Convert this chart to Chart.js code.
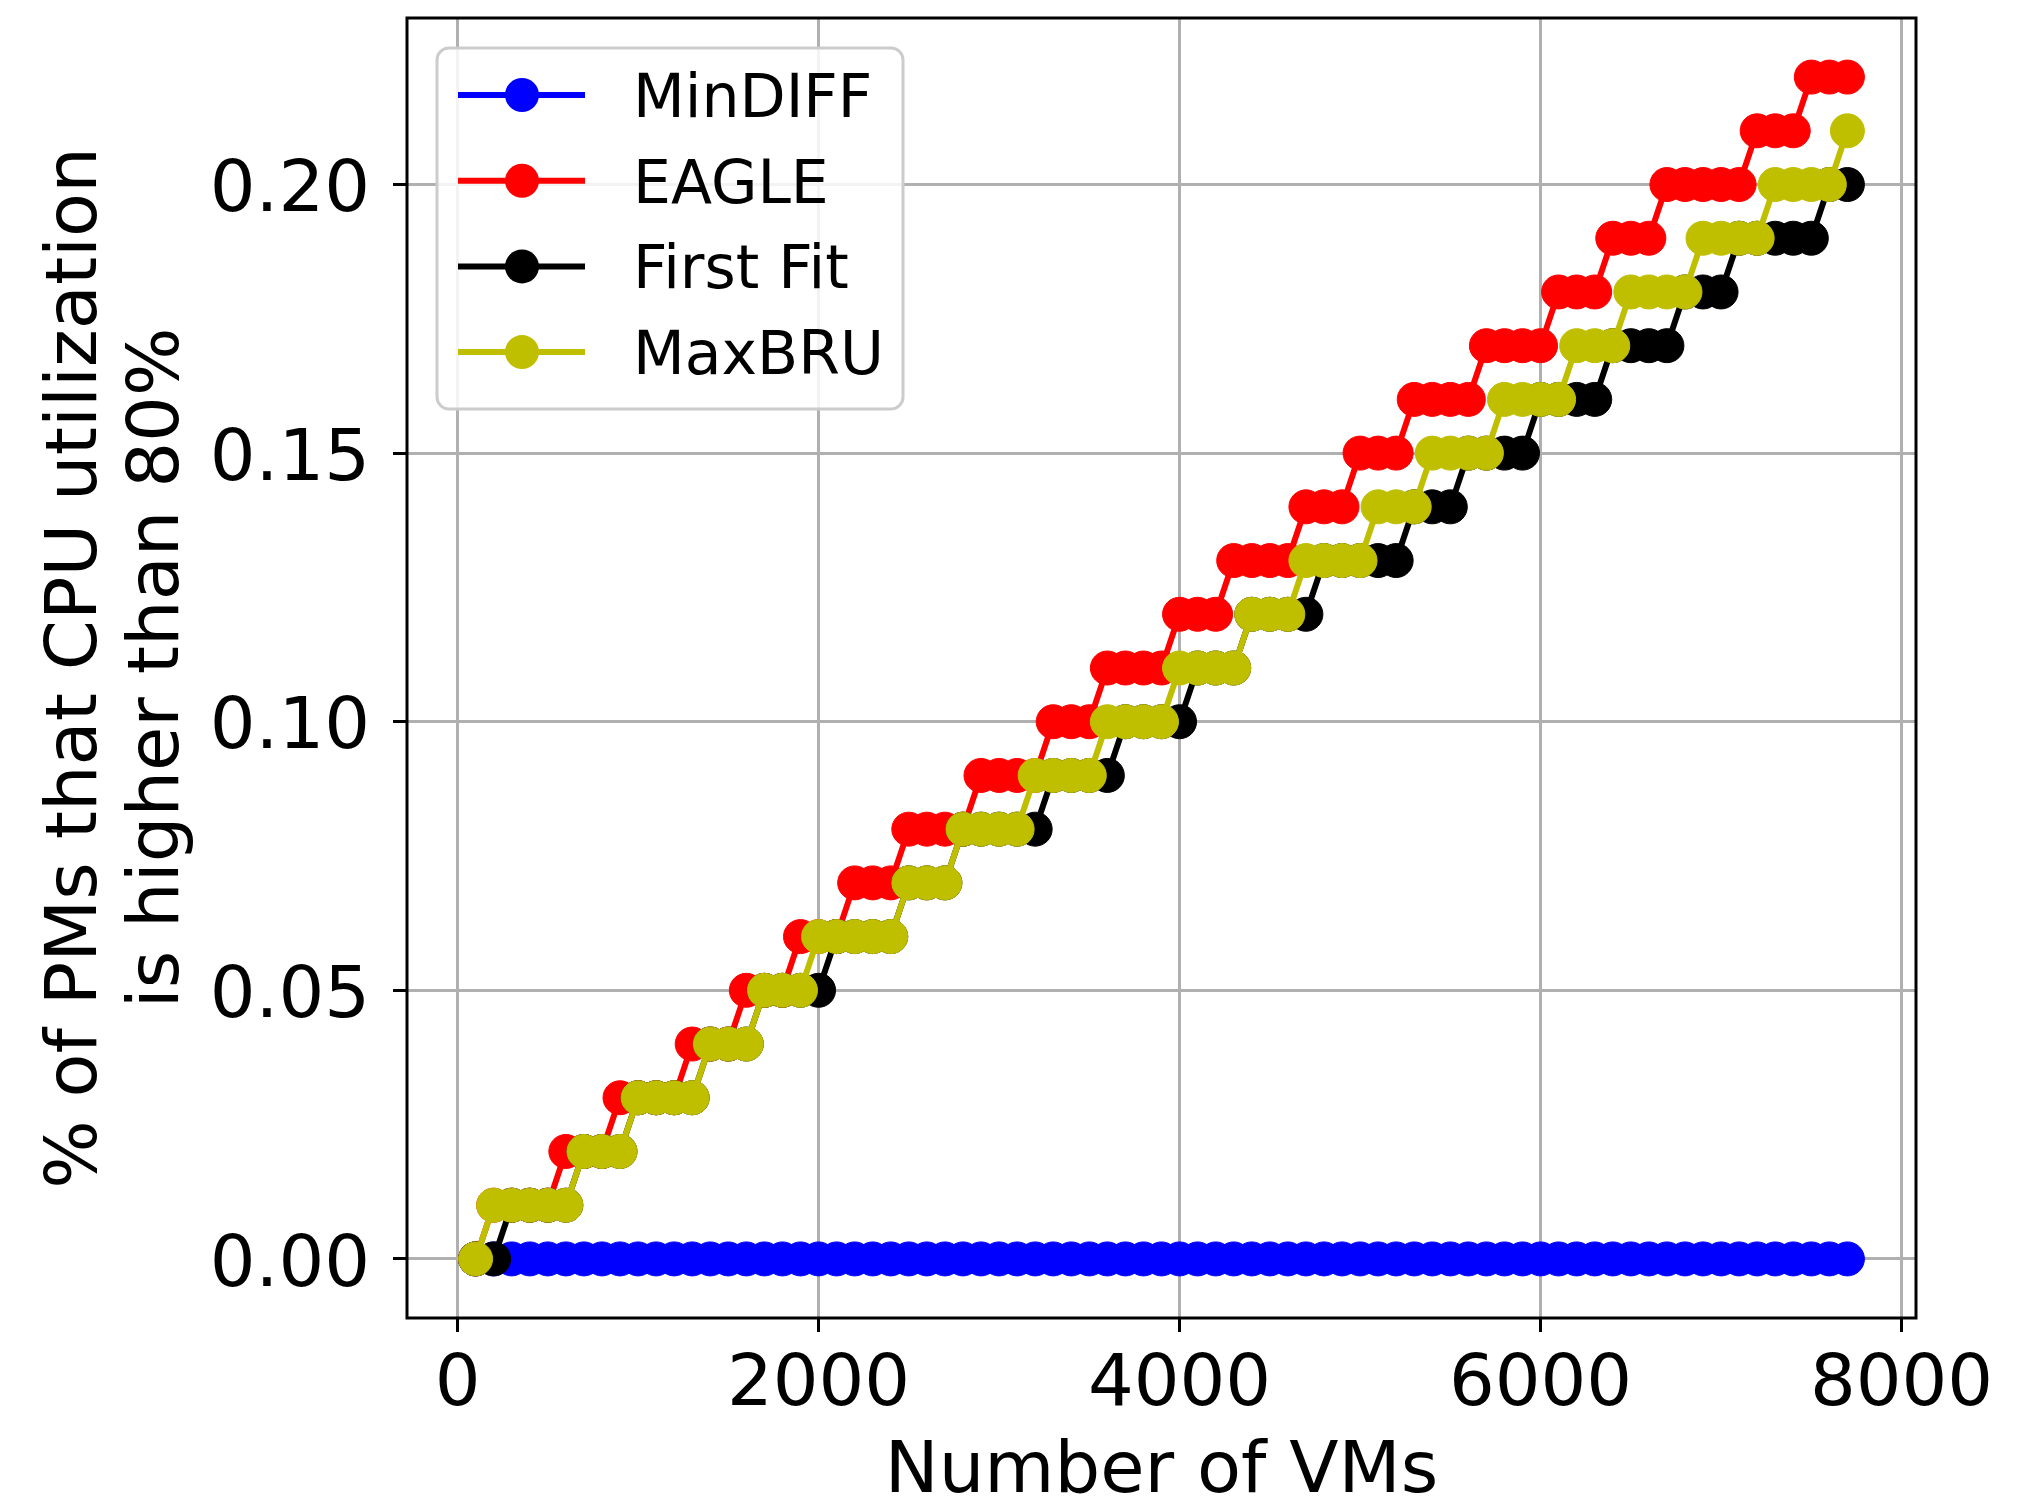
<!DOCTYPE html>
<html>
<head>
<meta charset="utf-8">
<title>PMs over 80% CPU</title>
<script src="https://cdn.jsdelivr.net/npm/chart.js@4.4.1/dist/chart.umd.min.js"></script>
<style>
  html, body { margin: 0; padding: 0; background: #ffffff; }
  #wrap { width: 2034px; height: 1502px; }
</style>
</head>
<body>
<div id="wrap"><canvas id="chart" width="2034" height="1502"></canvas></div>
<script>
// number of VMs (x) for every measured point
var vms = [
  100, 200, 300, 400, 500, 600, 700, 800, 900, 1000,
  1100, 1200, 1300, 1400, 1500, 1600, 1700, 1800, 1900, 2000,
  2100, 2200, 2300, 2400, 2500, 2600, 2700, 2800, 2900, 3000,
  3100, 3200, 3300, 3400, 3500, 3600, 3700, 3800, 3900, 4000,
  4100, 4200, 4300, 4400, 4500, 4600, 4700, 4800, 4900, 5000,
  5100, 5200, 5300, 5400, 5500, 5600, 5700, 5800, 5900, 6000,
  6100, 6200, 6300, 6400, 6500, 6600, 6700, 6800, 6900, 7000,
  7100, 7200, 7300, 7400, 7500, 7600, 7700
];

var minDiff = [
  0, 0, 0, 0, 0, 0, 0, 0, 0, 0,
  0, 0, 0, 0, 0, 0, 0, 0, 0, 0,
  0, 0, 0, 0, 0, 0, 0, 0, 0, 0,
  0, 0, 0, 0, 0, 0, 0, 0, 0, 0,
  0, 0, 0, 0, 0, 0, 0, 0, 0, 0,
  0, 0, 0, 0, 0, 0, 0, 0, 0, 0,
  0, 0, 0, 0, 0, 0, 0, 0, 0, 0,
  0, 0, 0, 0, 0, 0, 0
];

var eagle = [
  0, 0.01, 0.01, 0.01, 0.01, 0.02, 0.02, 0.02, 0.03, 0.03,
  0.03, 0.03, 0.04, 0.04, 0.04, 0.05, 0.05, 0.05, 0.06, 0.06,
  0.06, 0.07, 0.07, 0.07, 0.08, 0.08, 0.08, 0.08, 0.09, 0.09,
  0.09, 0.09, 0.10, 0.10, 0.10, 0.11, 0.11, 0.11, 0.11, 0.12,
  0.12, 0.12, 0.13, 0.13, 0.13, 0.13, 0.14, 0.14, 0.14, 0.15,
  0.15, 0.15, 0.16, 0.16, 0.16, 0.16, 0.17, 0.17, 0.17, 0.17,
  0.18, 0.18, 0.18, 0.19, 0.19, 0.19, 0.20, 0.20, 0.20, 0.20,
  0.20, 0.21, 0.21, 0.21, 0.22, 0.22, 0.22
];

var firstFit = [
  0, 0, 0.01, 0.01, 0.01, 0.01, 0.02, 0.02, 0.02, 0.03,
  0.03, 0.03, 0.03, 0.04, 0.04, 0.04, 0.05, 0.05, 0.05, 0.05,
  0.06, 0.06, 0.06, 0.06, 0.07, 0.07, 0.07, 0.08, 0.08, 0.08,
  0.08, 0.08, 0.09, 0.09, 0.09, 0.09, 0.10, 0.10, 0.10, 0.10,
  0.11, 0.11, 0.11, 0.12, 0.12, 0.12, 0.12, 0.13, 0.13, 0.13,
  0.13, 0.13, 0.14, 0.14, 0.14, 0.15, 0.15, 0.15, 0.15, 0.16,
  0.16, 0.16, 0.16, 0.17, 0.17, 0.17, 0.17, 0.18, 0.18, 0.18,
  0.19, 0.19, 0.19, 0.19, 0.19, 0.20, 0.20
];

var maxBru = [
  0, 0.01, 0.01, 0.01, 0.01, 0.01, 0.02, 0.02, 0.02, 0.03,
  0.03, 0.03, 0.03, 0.04, 0.04, 0.04, 0.05, 0.05, 0.05, 0.06,
  0.06, 0.06, 0.06, 0.06, 0.07, 0.07, 0.07, 0.08, 0.08, 0.08,
  0.08, 0.09, 0.09, 0.09, 0.09, 0.10, 0.10, 0.10, 0.10, 0.11,
  0.11, 0.11, 0.11, 0.12, 0.12, 0.12, 0.13, 0.13, 0.13, 0.13,
  0.14, 0.14, 0.14, 0.15, 0.15, 0.15, 0.15, 0.16, 0.16, 0.16,
  0.16, 0.17, 0.17, 0.17, 0.18, 0.18, 0.18, 0.18, 0.19, 0.19,
  0.19, 0.19, 0.20, 0.20, 0.20, 0.20, 0.21
];

var seriesNames = ['MinDIFF', 'EAGLE', 'First Fit', 'MaxBRU'];
var seriesColors = ['#0000ff', '#ff0000', '#000000', '#bfbf00'];

var xTicks = [0, 2000, 4000, 6000, 8000];
var yTicks = [0, 0.05, 0.10, 0.15, 0.20];

var FONT = 'DejaVu Sans';

function toPoints(values) {
  return values.map(function(v, i) { return { x: vms[i], y: v }; });
}

function makeSet(idx, values) {
  return {
    label: seriesNames[idx],
    data: toPoints(values),
    borderColor: seriesColors[idx],
    backgroundColor: seriesColors[idx],
    pointBackgroundColor: seriesColors[idx],
    pointBorderColor: seriesColors[idx],
    borderWidth: 6,
    pointRadius: 17,
    pointHoverRadius: 17,
    pointBorderWidth: 1,
    tension: 0,
    fill: false,
    // first series at the bottom, MaxBRU on top
    order: 4 - idx
  };
}

// black frame round the plot area
var frame = {
  id: 'frame',
  afterDatasetsDraw: function(chart) {
    var a = chart.chartArea, ctx = chart.ctx;
    ctx.save();
    ctx.strokeStyle = '#000';
    ctx.lineWidth = 3;
    ctx.strokeRect(a.left, a.top, a.right - a.left, a.bottom - a.top);
    ctx.restore();
  }
};

// matplotlib style legend box in the upper left corner
var boxLegend = {
  id: 'boxLegend',
  afterDraw: function(chart) {
    var a = chart.chartArea, ctx = chart.ctx;
    var left = a.left + 30, top = a.top + 30;
    var w = 466, h = 361, pitch = 85.7;
    ctx.save();
    ctx.beginPath();
    ctx.roundRect(left, top, w, h, 12);
    ctx.fillStyle = 'rgba(255,255,255,0.85)';
    ctx.fill();
    ctx.strokeStyle = '#cccccc';
    ctx.lineWidth = 3;
    ctx.stroke();

    ctx.font = '60px "' + FONT + '"';
    ctx.textAlign = 'left';
    ctx.textBaseline = 'alphabetic';
    chart.data.datasets.forEach(function(ds, i) {
      var cy = top + 47 + i * pitch;
      ctx.strokeStyle = ds.borderColor;
      ctx.lineWidth = 6;
      ctx.beginPath();
      ctx.moveTo(left + 21, cy);
      ctx.lineTo(left + 148, cy);
      ctx.stroke();
      ctx.fillStyle = ds.borderColor;
      ctx.beginPath();
      ctx.arc(left + 85, cy, 17, 0, Math.PI * 2);
      ctx.fill();
      ctx.fillStyle = '#000';
      ctx.fillText(ds.label, left + 196, cy + 22);
    });
    ctx.restore();
  }
};

// no extra room for edge labels, the layout padding below sets the plot box
function noEdgePadding(scale) {
  scale.paddingTop = 0;
  scale.paddingBottom = 0;
  scale.paddingLeft = 0;
  scale.paddingRight = 0;
}

var ctx = document.getElementById('chart').getContext('2d');
var chart = new Chart(ctx, {
  type: 'line',
  data: {
    datasets: [
      makeSet(0, minDiff),
      makeSet(1, eagle),
      makeSet(2, firstFit),
      makeSet(3, maxBru)
    ]
  },
  plugins: [frame, boxLegend],
  options: {
    responsive: false,
    animation: false,
    devicePixelRatio: 1,
    layout: { padding: { top: 18, right: 118, bottom: 0, left: 0 } },
    plugins: {
      legend: { display: false },
      tooltip: { enabled: false }
    },
    scales: {
      x: {
        type: 'linear',
        min: -280,
        max: 8080,
        afterBuildTicks: function(scale) {
          scale.ticks = xTicks.map(function(v) { return { value: v }; });
        },
        afterFit: function(scale) { scale.height = 184; noEdgePadding(scale); },
        grid: { color: '#b0b0b0', lineWidth: 3, tickLength: 14, tickColor: '#000', tickWidth: 3 },
        border: { display: false },
        ticks: {
          color: '#000',
          padding: 11,
          maxRotation: 0,
          font: { family: FONT, size: 72, lineHeight: 1.2 },
          callback: function(v) { return String(v); }
        },
        title: {
          display: true,
          text: 'Number of VMs',
          color: '#000',
          padding: { top: 0, bottom: 0 },
          font: { family: FONT, size: 72, lineHeight: 0.8 }
        }
      },
      y: {
        type: 'linear',
        min: -0.011,
        max: 0.231,
        afterBuildTicks: function(scale) {
          scale.ticks = yTicks.map(function(v) { return { value: v }; });
        },
        afterFit: function(scale) { scale.width = 407; noEdgePadding(scale); },
        grid: { color: '#b0b0b0', lineWidth: 3, tickLength: 14, tickColor: '#000', tickWidth: 3 },
        border: { display: false },
        ticks: {
          color: '#000',
          padding: 23,
          labelOffset: 8,
          font: { family: FONT, size: 72, lineHeight: 1.2 },
          callback: function(v) { return v.toFixed(2); }
        },
        title: {
          display: true,
          text: ['% of PMs that CPU utilization', 'is higher than 80%'],
          color: '#000',
          padding: { top: 36, bottom: 0 },
          font: { family: FONT, size: 72, lineHeight: 1.14 }
        }
      }
    }
  }
});
</script>
</body>
</html>
